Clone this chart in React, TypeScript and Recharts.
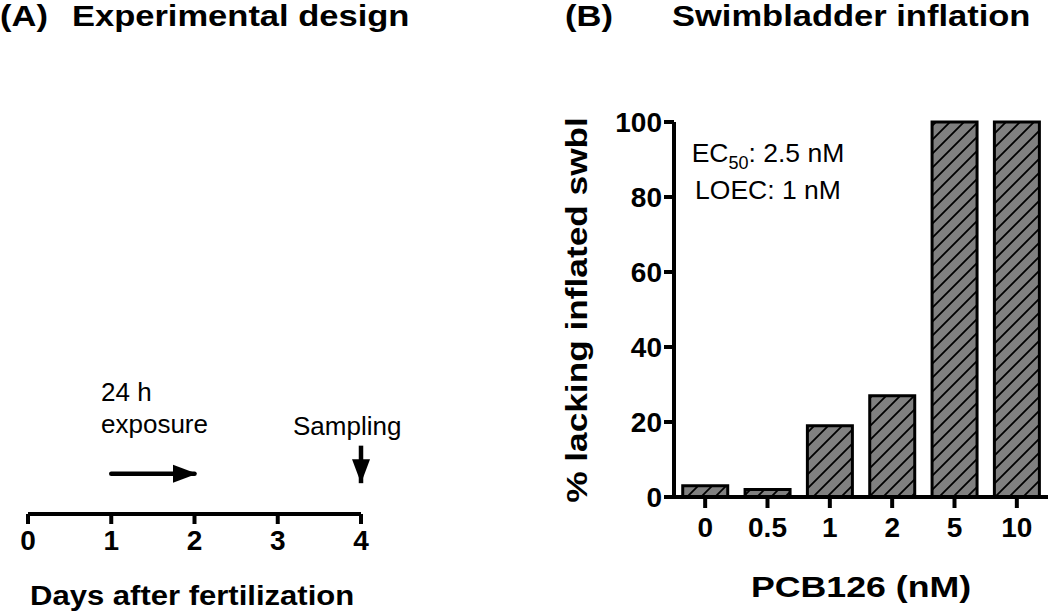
import React from 'react';
import { ComposedChart, Line, BarChart, Bar, XAxis, YAxis } from 'recharts';

// ---- Panel A: experimental design timeline ----
const days = [0, 1, 2, 3, 4];
const exposureArrow = [
  { day: 1, level: 3 },
  { day: 2, level: 3 },
];
const samplingArrow = [
  { day: 4, level: 5.1 },
  { day: 4, level: 2.3 },
];

// ---- Panel B: swimbladder inflation ----
const concentrations = ['0', '0.5', '1', '2', '5', '10'];
const pctLacking = [3, 2, 19, 27, 100, 100];
const yTicks = [0, 20, 40, 60, 80, 100];

const timelineData = days.map((d) => ({ day: d }));
const barData = concentrations.map((c, i) => ({ conc: c, pct: pctLacking[i] }));

const FONT = '"Liberation Sans", Arial, Helvetica, sans-serif';

const makeHead = (dir: 'right' | 'down', last: number) => (p: any) => {
  const { cx, cy, index } = p;
  if (index !== last || cx == null || cy == null) return <g key={`h-${dir}-${index}`} />;
  const headLen = 24;
  const halfW = 9;
  if (dir === 'right') {
    const tx = cx + 2.5;
    return (
      <polygon
        key={`h-${dir}-${index}`}
        points={`${tx},${cy} ${tx - headLen},${cy - halfW} ${tx - headLen},${cy + halfW}`}
        fill="#000"
      />
    );
  }
  return (
    <polygon
      key={`h-${dir}-${index}`}
      points={`${cx},${cy} ${cx - halfW},${cy - headLen} ${cx + halfW},${cy - headLen}`}
      fill="#000"
    />
  );
};

const WideText = ({ x, y, size, sx = 1, rot = 0, anchor = 'start', weight = 700, children }: any) => (
  <text
    transform={`translate(${x} ${y}) rotate(${rot}) scale(${sx} 1)`}
    textAnchor={anchor}
    fontSize={size}
    fontWeight={weight}
    fontFamily={FONT}
    fill="#000"
  >
    {children}
  </text>
);

const tickStyle = { fill: '#000', fontSize: 28, fontWeight: 700, fontFamily: FONT };
const axisStroke = { stroke: '#000', strokeWidth: 4 };

export default function App() {
  return (
    <div style={{ position: 'absolute', left: 0, top: 0, width: 1050, height: 613, background: '#fff', overflow: 'hidden' }}>
      <svg width={0} height={0} style={{ position: 'absolute' }}>
        <defs>
          <pattern id="hatch" patternUnits="userSpaceOnUse" width={14} height={14}>
            <rect x={0} y={0} width={14} height={14} fill="#808080" />
            <path d="M0,14 L14,0 M-3.5,3.5 L3.5,-3.5 M10.5,17.5 L17.5,10.5" stroke="#000" strokeWidth={1.8} />
          </pattern>
        </defs>
      </svg>

      <div style={{ position: 'absolute', left: 0, top: 0 }}>
        <ComposedChart width={400} height={613} data={timelineData} margin={{ top: 380, right: 39, bottom: 39, left: 28 }}>
          <XAxis
            dataKey="day"
            type="number"
            domain={[0, 4]}
            ticks={days}
            interval={0}
            height={60}
            tickSize={10}
            tickMargin={6}
            tick={tickStyle}
            axisLine={axisStroke}
            tickLine={axisStroke}
            allowDuplicatedCategory
          />
          <YAxis hide domain={[0, 10]} type="number" />
          <Line
            data={exposureArrow}
            dataKey="level"
            stroke="#000"
            strokeWidth={4.5}
            strokeLinecap="round"
            dot={makeHead('right', exposureArrow.length - 1)}
            activeDot={false}
            isAnimationActive={false}
          />
          <Line
            data={samplingArrow}
            dataKey="level"
            stroke="#000"
            strokeWidth={4.5}
            dot={makeHead('down', samplingArrow.length - 1)}
            activeDot={false}
            isAnimationActive={false}
          />
        </ComposedChart>
      </div>

      <div style={{ position: 'absolute', left: 540, top: 0 }}>
        <BarChart width={510} height={613} data={barData} margin={{ top: 122, right: 2, bottom: 56, left: 0 }} barCategoryGap="14%">
          <XAxis
            dataKey="conc"
            height={60}
            tickSize={11}
            tickMargin={9}
            tick={tickStyle}
            axisLine={axisStroke}
            tickLine={axisStroke}
            interval={0}
          />
          <YAxis
            domain={[0, 100]}
            ticks={yTicks}
            width={134}
            tickSize={10}
            tickMargin={2}
            tick={tickStyle}
            axisLine={axisStroke}
            tickLine={axisStroke}
            interval={0}
          />
          <Bar dataKey="pct" fill="url(#hatch)" stroke="#000" strokeWidth={3} isAnimationActive={false} />
        </BarChart>
      </div>

      <svg width={1050} height={613} style={{ position: 'absolute', left: 0, top: 0, pointerEvents: 'none' }}>
        <WideText x={0} y={26} size={29} sx={1.19}>(A)</WideText>
        <WideText x={72} y={26} size={29} sx={1.19}>Experimental design</WideText>
        <WideText x={565} y={26} size={29} sx={1.19}>(B)</WideText>
        <WideText x={672} y={26} size={29} sx={1.19}>Swimbladder inflation</WideText>

        <WideText x={101} y={401} size={26} weight={400}>24 h</WideText>
        <WideText x={101} y={433} size={26} weight={400}>exposure</WideText>
        <WideText x={293} y={435} size={26} weight={400}>Sampling</WideText>
        <WideText x={30} y={605} size={27} sx={1.15}>Days after fertilization</WideText>

        <text x={768} y={162} textAnchor="middle" fontSize={26.5} fontFamily={FONT} fill="#000">
          EC<tspan fontSize={18} dy={7}>50</tspan>
          <tspan dy={-7}>: 2.5 nM</tspan>
        </text>
        <text x={768} y={199} textAnchor="middle" fontSize={26.5} fontFamily={FONT} fill="#000">
          LOEC: 1 nM
        </text>

        <WideText x={861} y={597} size={30} sx={1.19} anchor="middle">PCB126 (nM)</WideText>
        <WideText x={587} y={310} size={30} sx={1.175} rot={-90} anchor="middle">% lacking inflated swbl</WideText>
      </svg>
    </div>
  );
}
